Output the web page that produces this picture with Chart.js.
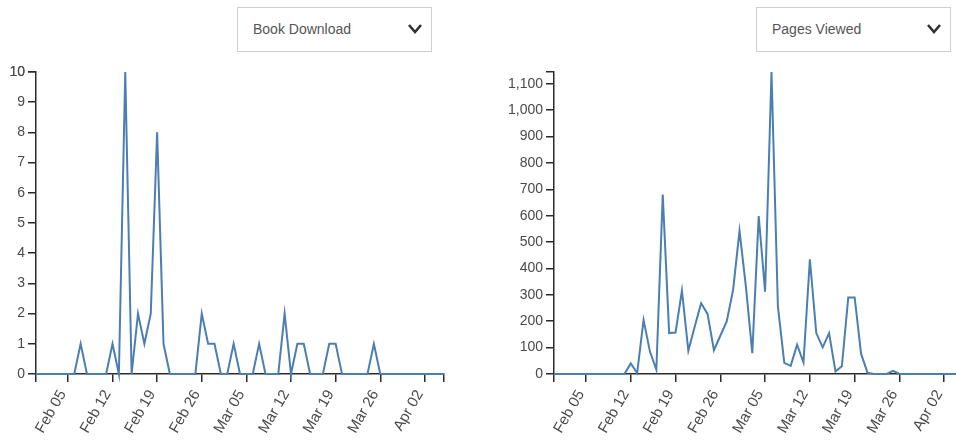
<!DOCTYPE html>
<html>
<head>
<meta charset="utf-8">
<script src="https://cdn.jsdelivr.net/npm/chart.js@4"></script>
<style>
  html, body { margin: 0; padding: 0; background: #fff; overflow: hidden; }
  body { width: 956px; height: 441px; position: relative; font-family: "Liberation Sans", Arial, sans-serif; }
  canvas { position: absolute; top: 0; }
  .select {
    position: absolute; top: 7px; width: 193px; height: 43px;
    border: 1px solid #cfcfcf; background: #fff; box-sizing: content-box;
  }
  .select span {
    position: absolute; left: 15px; top: 13px; font-size: 14px; color: #555;
  }
  .select svg { position: absolute; right: 8px; top: 15px; }
</style>
</head>
<body>

<canvas id="chartDescargas" width="470" height="441" style="left:0"></canvas>
<canvas id="chartPaginas" width="484" height="441" style="left:500px"></canvas>

<div class="select" style="left:237px">
  <span>Book Download</span>
  <svg width="16" height="12" viewBox="0 0 16 12"><polyline points="2,2 8,9 14,2" fill="none" stroke="#333" stroke-width="2.6"/></svg>
</div>
<div class="select" style="left:756px">
  <span>Pages Viewed</span>
  <svg width="16" height="12" viewBox="0 0 16 12"><polyline points="2,2 8,9 14,2" fill="none" stroke="#333" stroke-width="2.6"/></svg>
</div>

<script>
// one value per day, first day = Jan 31, last day = Apr 05
const descargas = [
    0, 0, 0, 0, 0, 0, 0,            // Jan 31 - Feb 06
    1, 0, 0, 0, 0, 1, 0,            // Feb 07 - Feb 13
    10, 0, 2, 1, 2, 8, 1,           // Feb 14 - Feb 20
    0, 0, 0, 0, 0, 2, 1,            // Feb 21 - Feb 27
    1, 0, 0, 1, 0, 0, 0,            // Feb 28 - Mar 06
    1, 0, 0, 0, 2, 0, 1,            // Mar 07 - Mar 13
    1, 0, 0, 0, 1, 1, 0,            // Mar 14 - Mar 20
    0, 0, 0, 0, 1, 0, 0,            // Mar 21 - Mar 27
    0, 0, 0, 0, 0, 0, 0,            // Mar 28 - Apr 03
    0, 0                            // Apr 04 - Apr 05
];

const paginas = [
    0, 0, 0, 0, 0, 0, 0,            // Jan 31 - Feb 06
    0, 0, 0, 0, 0, 40, 4,           // Feb 07 - Feb 13
    205, 85, 16, 680, 155, 157, 316,// Feb 14 - Feb 20
    88, 180, 268, 228, 90, 145, 199,// Feb 21 - Feb 27
    319, 543, 331, 79, 599, 312, 1145, // Feb 28 - Mar 06
    256, 42, 31, 111, 44, 435, 155, // Mar 07 - Mar 13
    101, 155, 10, 29, 290, 290, 77, // Mar 14 - Mar 20
    5, 0, 0, 0, 12, 0, 0,           // Mar 21 - Mar 27
    0, 0, 0, 0, 0, 0, 0,            // Mar 28 - Apr 03
    0, 0                            // Apr 04 - Apr 05
];

const etiquetasX = ['Feb 05', 'Feb 12', 'Feb 19', 'Feb 26', 'Mar 05', 'Mar 12', 'Mar 19', 'Mar 26', 'Apr 02'];
const diasX = [5, 12, 19, 26, 33, 40, 47, 54, 61];

const ticksDescargas = [0, 1, 2, 3, 4, 5, 6, 7, 8, 9, 10];
const ticksPaginas = [0, 100, 200, 300, 400, 500, 600, 700, 800, 900, 1000, 1100];

const colorLinea = '#4b7fb2';
const colorEje = '#2b2b2b';
const colorTexto = '#4a4a4a';

Chart.defaults.font.family = '"Liberation Sans", Arial, sans-serif';

function crearGrafica(id, valores, ticksY, maxY, anchoEje, padDerecha) {
    const puntos = valores.map((v, i) => ({ x: i, y: v }));
    const ultimo = valores.length - 1;
    const ticksXTodos = [0, ...diasX, ultimo];

    return new Chart(document.getElementById(id), {
        type: 'line',
        data: {
            datasets: [{
                data: puntos,
                borderColor: colorLinea,
                borderWidth: 2,
                pointRadius: 0,
                tension: 0,
                fill: false,
                clip: false
            }]
        },
        options: {
            responsive: false,
            animation: false,
            layout: { padding: { top: 72, right: padDerecha, left: 0, bottom: 0 } },
            plugins: { legend: { display: false }, tooltip: { enabled: false } },
            scales: {
                x: {
                    type: 'linear',
                    min: 0,
                    max: ultimo,
                    afterBuildTicks: s => { s.ticks = ticksXTodos.map(v => ({ value: v })); },
                    afterFit: s => { s.height = 67; },
                    grid: { drawOnChartArea: false, tickLength: 8, color: colorEje, lineWidth: 1.5 },
                    border: { color: colorEje, width: 1.5 },
                    ticks: {
                        autoSkip: false,
                        minRotation: 60,
                        maxRotation: 60,
                        padding: 5,
                        labelOffset: -5,
                        color: colorTexto,
                        font: { size: 15 },
                        callback: v => {
                            const k = diasX.indexOf(v);
                            return k >= 0 ? etiquetasX[k] : '';
                        }
                    }
                },
                y: {
                    min: 0,
                    max: maxY,
                    afterBuildTicks: s => { s.ticks = [...ticksY, maxY].map(v => ({ value: v })); },
                    afterFit: s => { s.width = anchoEje; },
                    grid: { drawOnChartArea: false, tickLength: 8, color: colorEje, lineWidth: 1.5 },
                    border: { color: colorEje, width: 1.5 },
                    ticks: {
                        padding: 3,
                        color: colorTexto,
                        font: { size: 14 },
                        callback: v => ticksY.includes(v) ? v.toLocaleString('en-US') : ''
                    }
                }
            }
        }
    });
}

crearGrafica('chartDescargas', descargas, ticksDescargas, 10, 36, 26);
crearGrafica('chartPaginas', paginas, ticksPaginas, 1145, 54, 16);
</script>
</body>
</html>
